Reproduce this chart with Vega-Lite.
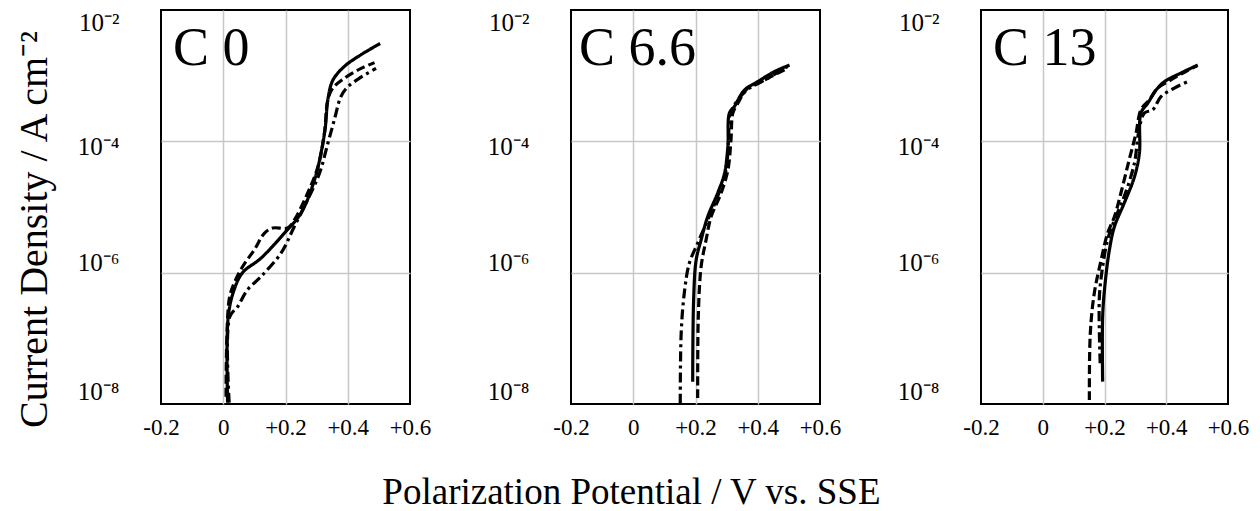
{
  "$schema": "https://vega.github.io/schema/vega-lite/v6.json",
  "padding": {"left": 13, "top": 9, "right": 5, "bottom": 0},
  "background": "white",
  "config": {
    "font": "Liberation Serif",
    "view": {"stroke": "black", "strokeWidth": 2},
    "axis": {
      "grid": true,
      "gridColor": "#c8c8c8",
      "gridWidth": 1.5,
      "ticks": false,
      "domain": false,
      "labelColor": "black",
      "labelFont": "Liberation Serif"
    },
    "axisX": {"labelFlush": false, "labelOverlap": false, "labelFontSize": 23, "labelPadding": 12, "title": null},
    "axisY": {"labelFlush": true, "labelOverlap": false, "labelFontSize": 25, "labelPadding": 42}
  },
  "title": {
    "text": "Polarization Potential / V vs. SSE",
    "orient": "bottom",
    "anchor": "middle",
    "fontSize": 37,
    "fontWeight": "normal",
    "font": "Liberation Serif",
    "color": "black",
    "baseline": "top",
    "offset": 35
  },
  "datasets": {
    "pts": [
      {"p": "C0", "s": "solid", "i": 1, "v": 0.014, "j": 1.05e-8},
      {"p": "C0", "s": "solid", "i": 2, "v": 0.016, "j": 2.14e-7},
      {"p": "C0", "s": "solid", "i": 3, "v": 0.035, "j": 5.5e-7},
      {"p": "C0", "s": "solid", "i": 4, "v": 0.062, "j": 1.0e-6},
      {"p": "C0", "s": "solid", "i": 5, "v": 0.121, "j": 1.66e-6},
      {"p": "C0", "s": "solid", "i": 6, "v": 0.196, "j": 3.98e-6},
      {"p": "C0", "s": "solid", "i": 7, "v": 0.25, "j": 8.1e-6},
      {"p": "C0", "s": "solid", "i": 8, "v": 0.293, "j": 2.57e-5},
      {"p": "C0", "s": "solid", "i": 9, "v": 0.314, "j": 6.6e-5},
      {"p": "C0", "s": "solid", "i": 10, "v": 0.328, "j": 1.66e-4},
      {"p": "C0", "s": "solid", "i": 11, "v": 0.336, "j": 4.27e-4},
      {"p": "C0", "s": "solid", "i": 12, "v": 0.352, "j": 8.5e-4},
      {"p": "C0", "s": "solid", "i": 13, "v": 0.389, "j": 1.38e-3},
      {"p": "C0", "s": "solid", "i": 14, "v": 0.443, "j": 2.09e-3},
      {"p": "C0", "s": "solid", "i": 15, "v": 0.504, "j": 3.09e-3},

      {"p": "C0", "s": "dash", "i": 1, "v": 0.009, "j": 1.29e-8},
      {"p": "C0", "s": "dash", "i": 2, "v": 0.019, "j": 3.89e-7},
      {"p": "C0", "s": "dash", "i": 3, "v": 0.035, "j": 6.9e-7},
      {"p": "C0", "s": "dash", "i": 4, "v": 0.062, "j": 1.23e-6},
      {"p": "C0", "s": "dash", "i": 5, "v": 0.10, "j": 2.24e-6},
      {"p": "C0", "s": "dash", "i": 6, "v": 0.132, "j": 3.98e-6},
      {"p": "C0", "s": "dash", "i": 7, "v": 0.159, "j": 4.79e-6},
      {"p": "C0", "s": "dash", "i": 8, "v": 0.207, "j": 4.79e-6},
      {"p": "C0", "s": "dash", "i": 9, "v": 0.228, "j": 6.3e-6},
      {"p": "C0", "s": "dash", "i": 10, "v": 0.271, "j": 1.62e-5},
      {"p": "C0", "s": "dash", "i": 11, "v": 0.304, "j": 4.07e-5},
      {"p": "C0", "s": "dash", "i": 12, "v": 0.325, "j": 1.32e-4},
      {"p": "C0", "s": "dash", "i": 13, "v": 0.336, "j": 4.27e-4},
      {"p": "C0", "s": "dash", "i": 14, "v": 0.352, "j": 6.46e-4},
      {"p": "C0", "s": "dash", "i": 15, "v": 0.389, "j": 9.1e-4},
      {"p": "C0", "s": "dash", "i": 16, "v": 0.443, "j": 1.29e-3},
      {"p": "C0", "s": "dash", "i": 17, "v": 0.486, "j": 1.58e-3},

      {"p": "C0", "s": "dashdot", "i": 1, "v": 0.019, "j": 1.05e-8},
      {"p": "C0", "s": "dashdot", "i": 2, "v": 0.021, "j": 2.14e-7},
      {"p": "C0", "s": "dashdot", "i": 3, "v": 0.046, "j": 3.02e-7},
      {"p": "C0", "s": "dashdot", "i": 4, "v": 0.078, "j": 5.5e-7},
      {"p": "C0", "s": "dashdot", "i": 5, "v": 0.121, "j": 8.7e-7},
      {"p": "C0", "s": "dashdot", "i": 6, "v": 0.186, "j": 2.0e-6},
      {"p": "C0", "s": "dashdot", "i": 7, "v": 0.228, "j": 5.0e-6},
      {"p": "C0", "s": "dashdot", "i": 8, "v": 0.271, "j": 1.29e-5},
      {"p": "C0", "s": "dashdot", "i": 9, "v": 0.309, "j": 3.24e-5},
      {"p": "C0", "s": "dashdot", "i": 10, "v": 0.336, "j": 9.3e-5},
      {"p": "C0", "s": "dashdot", "i": 11, "v": 0.357, "j": 2.14e-4},
      {"p": "C0", "s": "dashdot", "i": 12, "v": 0.378, "j": 4.79e-4},
      {"p": "C0", "s": "dashdot", "i": 13, "v": 0.40, "j": 6.76e-4},
      {"p": "C0", "s": "dashdot", "i": 14, "v": 0.443, "j": 9.5e-4},
      {"p": "C0", "s": "dashdot", "i": 15, "v": 0.491, "j": 1.29e-3},

      {"p": "C6.6", "s": "solid", "i": 1, "v": 0.191, "j": 2.19e-8},
      {"p": "C6.6", "s": "solid", "i": 2, "v": 0.194, "j": 3.89e-7},
      {"p": "C6.6", "s": "solid", "i": 3, "v": 0.202, "j": 1.55e-6},
      {"p": "C6.6", "s": "solid", "i": 4, "v": 0.218, "j": 3.16e-6},
      {"p": "C6.6", "s": "solid", "i": 5, "v": 0.239, "j": 7.08e-6},
      {"p": "C6.6", "s": "solid", "i": 6, "v": 0.271, "j": 1.62e-5},
      {"p": "C6.6", "s": "solid", "i": 7, "v": 0.293, "j": 3.24e-5},
      {"p": "C6.6", "s": "solid", "i": 8, "v": 0.304, "j": 8.3e-5},
      {"p": "C6.6", "s": "solid", "i": 9, "v": 0.309, "j": 2.69e-4},
      {"p": "C6.6", "s": "solid", "i": 10, "v": 0.325, "j": 3.39e-4},
      {"p": "C6.6", "s": "solid", "i": 11, "v": 0.357, "j": 6.03e-4},
      {"p": "C6.6", "s": "solid", "i": 12, "v": 0.40, "j": 8.1e-4},
      {"p": "C6.6", "s": "solid", "i": 13, "v": 0.453, "j": 1.15e-3},
      {"p": "C6.6", "s": "solid", "i": 14, "v": 0.502, "j": 1.45e-3},

      {"p": "C6.6", "s": "dash", "i": 1, "v": 0.207, "j": 1.23e-8},
      {"p": "C6.6", "s": "dash", "i": 2, "v": 0.209, "j": 2.14e-7},
      {"p": "C6.6", "s": "dash", "i": 3, "v": 0.218, "j": 1.23e-6},
      {"p": "C6.6", "s": "dash", "i": 4, "v": 0.234, "j": 3.16e-6},
      {"p": "C6.6", "s": "dash", "i": 5, "v": 0.25, "j": 7.08e-6},
      {"p": "C6.6", "s": "dash", "i": 6, "v": 0.282, "j": 1.62e-5},
      {"p": "C6.6", "s": "dash", "i": 7, "v": 0.304, "j": 3.63e-5},
      {"p": "C6.6", "s": "dash", "i": 8, "v": 0.314, "j": 1.05e-4},
      {"p": "C6.6", "s": "dash", "i": 9, "v": 0.320, "j": 2.69e-4},
      {"p": "C6.6", "s": "dash", "i": 10, "v": 0.336, "j": 3.8e-4},
      {"p": "C6.6", "s": "dash", "i": 11, "v": 0.368, "j": 6.46e-4},
      {"p": "C6.6", "s": "dash", "i": 12, "v": 0.411, "j": 8.1e-4},
      {"p": "C6.6", "s": "dash", "i": 13, "v": 0.486, "j": 1.23e-3},

      {"p": "C6.6", "s": "dashdot", "i": 1, "v": 0.151, "j": 1.02e-8},
      {"p": "C6.6", "s": "dashdot", "i": 2, "v": 0.154, "j": 1.2e-7},
      {"p": "C6.6", "s": "dashdot", "i": 3, "v": 0.164, "j": 4.9e-7},
      {"p": "C6.6", "s": "dashdot", "i": 4, "v": 0.180, "j": 1.38e-6},
      {"p": "C6.6", "s": "dashdot", "i": 5, "v": 0.207, "j": 2.82e-6},
      {"p": "C6.6", "s": "dashdot", "i": 6, "v": 0.239, "j": 6.3e-6},
      {"p": "C6.6", "s": "dashdot", "i": 7, "v": 0.271, "j": 1.45e-5},
      {"p": "C6.6", "s": "dashdot", "i": 8, "v": 0.298, "j": 3.63e-5},
      {"p": "C6.6", "s": "dashdot", "i": 9, "v": 0.306, "j": 1.05e-4},
      {"p": "C6.6", "s": "dashdot", "i": 10, "v": 0.312, "j": 2.69e-4},
      {"p": "C6.6", "s": "dashdot", "i": 11, "v": 0.336, "j": 4.27e-4},
      {"p": "C6.6", "s": "dashdot", "i": 12, "v": 0.368, "j": 6.17e-4},
      {"p": "C6.6", "s": "dashdot", "i": 13, "v": 0.421, "j": 8.5e-4},
      {"p": "C6.6", "s": "dashdot", "i": 14, "v": 0.496, "j": 1.38e-3},

      {"p": "C13", "s": "solid", "i": 1, "v": 0.194, "j": 2.19e-8},
      {"p": "C13", "s": "solid", "i": 2, "v": 0.194, "j": 2.14e-7},
      {"p": "C13", "s": "solid", "i": 3, "v": 0.202, "j": 6.9e-7},
      {"p": "C13", "s": "solid", "i": 4, "v": 0.216, "j": 2.24e-6},
      {"p": "C13", "s": "solid", "i": 5, "v": 0.232, "j": 5.0e-6},
      {"p": "C13", "s": "solid", "i": 6, "v": 0.264, "j": 1.15e-5},
      {"p": "C13", "s": "solid", "i": 7, "v": 0.297, "j": 2.88e-5},
      {"p": "C13", "s": "solid", "i": 8, "v": 0.313, "j": 6.6e-5},
      {"p": "C13", "s": "solid", "i": 9, "v": 0.318, "j": 2.69e-4},
      {"p": "C13", "s": "solid", "i": 10, "v": 0.340, "j": 3.8e-4},
      {"p": "C13", "s": "solid", "i": 11, "v": 0.367, "j": 6.03e-4},
      {"p": "C13", "s": "solid", "i": 12, "v": 0.394, "j": 8.1e-4},
      {"p": "C13", "s": "solid", "i": 13, "v": 0.448, "j": 1.1e-3},
      {"p": "C13", "s": "solid", "i": 14, "v": 0.502, "j": 1.45e-3},

      {"p": "C13", "s": "dash", "i": 1, "v": 0.151, "j": 1.15e-8},
      {"p": "C13", "s": "dash", "i": 2, "v": 0.154, "j": 1.2e-7},
      {"p": "C13", "s": "dash", "i": 3, "v": 0.167, "j": 4.9e-7},
      {"p": "C13", "s": "dash", "i": 4, "v": 0.189, "j": 1.55e-6},
      {"p": "C13", "s": "dash", "i": 5, "v": 0.210, "j": 3.98e-6},
      {"p": "C13", "s": "dash", "i": 6, "v": 0.232, "j": 7.08e-6},
      {"p": "C13", "s": "dash", "i": 7, "v": 0.253, "j": 1.62e-5},
      {"p": "C13", "s": "dash", "i": 8, "v": 0.280, "j": 5.25e-5},
      {"p": "C13", "s": "dash", "i": 9, "v": 0.302, "j": 1.32e-4},
      {"p": "C13", "s": "dash", "i": 10, "v": 0.318, "j": 3.02e-4},
      {"p": "C13", "s": "dash", "i": 11, "v": 0.345, "j": 4.27e-4},
      {"p": "C13", "s": "dash", "i": 12, "v": 0.372, "j": 6.46e-4},
      {"p": "C13", "s": "dash", "i": 13, "v": 0.405, "j": 8.1e-4},
      {"p": "C13", "s": "dash", "i": 14, "v": 0.469, "j": 1.2e-3},
      {"p": "C13", "s": "dash", "i": 15, "v": 0.50, "j": 1.41e-3},

      {"p": "C13", "s": "dashdot", "i": 1, "v": 0.186, "j": 4.17e-8},
      {"p": "C13", "s": "dashdot", "i": 2, "v": 0.183, "j": 3.89e-7},
      {"p": "C13", "s": "dashdot", "i": 3, "v": 0.191, "j": 9.8e-7},
      {"p": "C13", "s": "dashdot", "i": 4, "v": 0.210, "j": 3.16e-6},
      {"p": "C13", "s": "dashdot", "i": 5, "v": 0.232, "j": 6.3e-6},
      {"p": "C13", "s": "dashdot", "i": 6, "v": 0.264, "j": 1.45e-5},
      {"p": "C13", "s": "dashdot", "i": 7, "v": 0.297, "j": 4.68e-5},
      {"p": "C13", "s": "dashdot", "i": 8, "v": 0.310, "j": 1.32e-4},
      {"p": "C13", "s": "dashdot", "i": 9, "v": 0.329, "j": 2.69e-4},
      {"p": "C13", "s": "dashdot", "i": 10, "v": 0.356, "j": 3.02e-4},
      {"p": "C13", "s": "dashdot", "i": 11, "v": 0.383, "j": 4.79e-4},
      {"p": "C13", "s": "dashdot", "i": 12, "v": 0.426, "j": 6.46e-4},
      {"p": "C13", "s": "dashdot", "i": 13, "v": 0.469, "j": 8.1e-4}
    ]
  },
  "spacing": 161,
  "bounds": "flush",
  "hconcat": [
    {
      "width": 249,
      "height": 394,
      "layer": [
        {
          "data": {"name": "pts"},
          "transform": [{"filter": "datum.p == 'C0'"}],
          "mark": {"type": "line", "color": "black", "strokeWidth": 3.2, "interpolate": "catmull-rom", "clip": true},
          "encoding": {
            "x": {"field": "v", "type": "quantitative",
              "scale": {"domain": [-0.2, 0.6], "nice": false, "zero": false},
              "axis": {"values": [-0.2, 0, 0.2, 0.4, 0.6],
                "labelExpr": "datum.value < -0.1 ? '-0.2' : datum.value < 0.1 ? '0' : '+' + format(datum.value, '.1f')",
                "gridOpacity": {"condition": {"test": "datum.value < -0.19 || datum.value > 0.59", "value": 0}, "value": 1}}},
            "y": {"field": "j", "type": "quantitative",
              "scale": {"type": "log", "domain": [1e-8, 1e-2], "nice": false},
              "axis": {"values": [1e-8, 1e-6, 1e-4, 1e-2],
                "labelExpr": "datum.value > 1e-3 ? '10⁻²' : datum.value > 1e-5 ? '10⁻⁴' : datum.value > 1e-7 ? '10⁻⁶' : '10⁻⁸'",
                "labelOffset": {"condition": [{"test": "datum.value > 1e-5 && datum.value < 1e-3", "value": 5}, {"test": "datum.value > 1e-7 && datum.value < 1e-5", "value": -10}], "value": 0},
                "gridOpacity": {"condition": {"test": "datum.value < 1e-7 || datum.value > 1e-3", "value": 0}, "value": 1},
                "title": "Current Density / A cm⁻²", "titleFontSize": 40, "titleFontWeight": "normal", "titleColor": "black",
                "titleFont": "Liberation Serif", "titleAngle": 270, "titleX": -127, "titleY": 219, "titleBaseline": "middle", "titleAlign": "center"}},
            "strokeDash": {"field": "s", "type": "nominal",
              "scale": {"domain": ["solid", "dash", "dashdot"], "range": [[1, 0], [9, 4], [10, 4, 3, 4]]}, "legend": null},
            "order": {"field": "i", "type": "quantitative"}
          }
        },
        {
          "data": {"values": [{"label": "C 0"}]},
          "mark": {"type": "text", "align": "left", "baseline": "alphabetic", "fontSize": 54, "font": "Liberation Serif", "color": "black", "dx": 12, "dy": 55},
          "encoding": {"x": {"datum": -0.2}, "y": {"datum": 0.01}, "text": {"field": "label"}}
        }
      ]
    },
    {
      "width": 249,
      "height": 394,
      "layer": [
        {
          "data": {"name": "pts"},
          "transform": [{"filter": "datum.p == 'C6.6'"}],
          "mark": {"type": "line", "color": "black", "strokeWidth": 3.2, "interpolate": "catmull-rom", "clip": true},
          "encoding": {
            "x": {"field": "v", "type": "quantitative",
              "scale": {"domain": [-0.2, 0.6], "nice": false, "zero": false},
              "axis": {"values": [-0.2, 0, 0.2, 0.4, 0.6],
                "labelExpr": "datum.value < -0.1 ? '-0.2' : datum.value < 0.1 ? '0' : '+' + format(datum.value, '.1f')",
                "gridOpacity": {"condition": {"test": "datum.value < -0.19 || datum.value > 0.59", "value": 0}, "value": 1}}},
            "y": {"field": "j", "type": "quantitative",
              "scale": {"type": "log", "domain": [1e-8, 1e-2], "nice": false},
              "axis": {"values": [1e-8, 1e-6, 1e-4, 1e-2],
                "labelExpr": "datum.value > 1e-3 ? '10⁻²' : datum.value > 1e-5 ? '10⁻⁴' : datum.value > 1e-7 ? '10⁻⁶' : '10⁻⁸'",
                "labelOffset": {"condition": [{"test": "datum.value > 1e-5 && datum.value < 1e-3", "value": 5}, {"test": "datum.value > 1e-7 && datum.value < 1e-5", "value": -10}], "value": 0},
                "gridOpacity": {"condition": {"test": "datum.value < 1e-7 || datum.value > 1e-3", "value": 0}, "value": 1},
                "title": null}},
            "strokeDash": {"field": "s", "type": "nominal",
              "scale": {"domain": ["solid", "dash", "dashdot"], "range": [[1, 0], [9, 4], [10, 4, 3, 4]]}, "legend": null},
            "order": {"field": "i", "type": "quantitative"}
          }
        },
        {
          "data": {"values": [{"label": "C 6.6"}]},
          "mark": {"type": "text", "align": "left", "baseline": "alphabetic", "fontSize": 54, "font": "Liberation Serif", "color": "black", "dx": 8, "dy": 55},
          "encoding": {"x": {"datum": -0.2}, "y": {"datum": 0.01}, "text": {"field": "label"}}
        }
      ]
    },
    {
      "width": 247,
      "height": 394,
      "layer": [
        {
          "data": {"name": "pts"},
          "transform": [{"filter": "datum.p == 'C13'"}],
          "mark": {"type": "line", "color": "black", "strokeWidth": 3.2, "interpolate": "catmull-rom", "clip": true},
          "encoding": {
            "x": {"field": "v", "type": "quantitative",
              "scale": {"domain": [-0.2, 0.6], "nice": false, "zero": false},
              "axis": {"values": [-0.2, 0, 0.2, 0.4, 0.6],
                "labelExpr": "datum.value < -0.1 ? '-0.2' : datum.value < 0.1 ? '0' : '+' + format(datum.value, '.1f')",
                "gridOpacity": {"condition": {"test": "datum.value < -0.19 || datum.value > 0.59", "value": 0}, "value": 1}}},
            "y": {"field": "j", "type": "quantitative",
              "scale": {"type": "log", "domain": [1e-8, 1e-2], "nice": false},
              "axis": {"values": [1e-8, 1e-6, 1e-4, 1e-2],
                "labelExpr": "datum.value > 1e-3 ? '10⁻²' : datum.value > 1e-5 ? '10⁻⁴' : datum.value > 1e-7 ? '10⁻⁶' : '10⁻⁸'",
                "labelOffset": {"condition": [{"test": "datum.value > 1e-5 && datum.value < 1e-3", "value": 5}, {"test": "datum.value > 1e-7 && datum.value < 1e-5", "value": -10}], "value": 0},
                "gridOpacity": {"condition": {"test": "datum.value < 1e-7 || datum.value > 1e-3", "value": 0}, "value": 1},
                "title": null}},
            "strokeDash": {"field": "s", "type": "nominal",
              "scale": {"domain": ["solid", "dash", "dashdot"], "range": [[1, 0], [9, 4], [10, 4, 3, 4]]}, "legend": null},
            "order": {"field": "i", "type": "quantitative"}
          }
        },
        {
          "data": {"values": [{"label": "C 13"}]},
          "mark": {"type": "text", "align": "left", "baseline": "alphabetic", "fontSize": 54, "font": "Liberation Serif", "color": "black", "dx": 12, "dy": 55},
          "encoding": {"x": {"datum": -0.2}, "y": {"datum": 0.01}, "text": {"field": "label"}}
        }
      ]
    }
  ]
}
